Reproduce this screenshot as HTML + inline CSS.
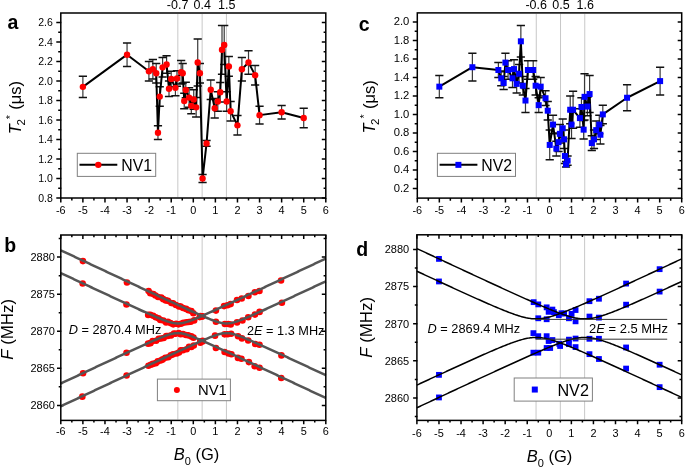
<!DOCTYPE html><html><head><meta charset="utf-8"><style>html,body{margin:0;padding:0;background:#fff;width:685px;height:467px;overflow:hidden}svg{display:block;will-change:transform}</style></head><body><svg width="685" height="467" viewBox="0 0 685 467" font-family='"Liberation Sans", sans-serif'><path d="M177.84 14.00V197.00M202.13 14.00V197.00M226.43 14.00V197.00" stroke="#c8c8c8" stroke-width="1" fill="none"/><path d="M82.88 76.13V97.58M127.05 42.97V66.38M148.91 61.50V81.00M152.89 59.55V79.05M156.20 63.45V82.95M157.97 125.85V139.50M159.73 86.85V106.35M162.60 57.60V77.10M166.58 55.65V73.20M169.01 81.00V96.60M171.22 71.25V86.85M175.41 80.03V95.63M176.96 70.67V86.27M181.15 60.53V83.93M182.70 63.45V82.95M184.25 93.19V108.79M185.79 82.27V97.87M189.10 87.82V107.33M191.31 98.06V113.66M193.74 89.77V109.28M196.17 97.58V117.08M197.72 39.08V85.88M199.93 63.45V82.95M202.57 174.60V182.40M206.55 140.47V146.32M210.75 80.03V99.53M214.72 98.55V118.05M217.81 91.72V111.23M220.24 82.46V101.96M222.01 25.43V74.18M224.22 25.42V64.43M226.65 91.72V111.23M228.85 56.62V76.13M230.62 101.47V120.98M237.47 115.61V135.11M241.88 57.60V81.00M248.51 50.78V74.18M255.13 65.40V84.90M259.55 106.35V123.90M281.63 105.38V119.03M303.72 108.30V127.80" stroke="#3a3a3a" stroke-width="1.2" fill="none"/><path d="M78.78 76.13H86.98M78.78 97.58H86.98M122.95 42.97H131.15M122.95 66.38H131.15M144.81 61.50H153.01M144.81 81.00H153.01M148.79 59.55H156.99M148.79 79.05H156.99M152.10 63.45H160.30M152.10 82.95H160.30M153.87 125.85H162.07M153.87 139.50H162.07M155.63 86.85H163.83M155.63 106.35H163.83M158.50 57.60H166.70M158.50 77.10H166.70M162.48 55.65H170.68M162.48 73.20H170.68M164.91 81.00H173.11M164.91 96.60H173.11M167.12 71.25H175.32M167.12 86.85H175.32M171.31 80.03H179.51M171.31 95.63H179.51M172.86 70.67H181.06M172.86 86.27H181.06M177.05 60.53H185.25M177.05 83.93H185.25M178.60 63.45H186.80M178.60 82.95H186.80M180.15 93.19H188.35M180.15 108.79H188.35M181.69 82.27H189.89M181.69 97.87H189.89M185.00 87.82H193.20M185.00 107.33H193.20M187.21 98.06H195.41M187.21 113.66H195.41M189.64 89.77H197.84M189.64 109.28H197.84M192.07 97.58H200.27M192.07 117.08H200.27M193.62 39.08H201.82M193.62 85.88H201.82M195.83 63.45H204.03M195.83 82.95H204.03M198.47 174.60H206.67M198.47 182.40H206.67M202.45 140.47H210.65M202.45 146.32H210.65M206.65 80.03H214.85M206.65 99.53H214.85M210.62 98.55H218.82M210.62 118.05H218.82M213.71 91.72H221.91M213.71 111.23H221.91M216.14 82.46H224.34M216.14 101.96H224.34M217.91 25.43H226.11M217.91 74.18H226.11M220.12 25.42H228.32M220.12 64.43H228.32M222.55 91.72H230.75M222.55 111.23H230.75M224.75 56.62H232.95M224.75 76.13H232.95M226.52 101.47H234.72M226.52 120.98H234.72M233.37 115.61H241.57M233.37 135.11H241.57M237.78 57.60H245.98M237.78 81.00H245.98M244.41 50.78H252.61M244.41 74.18H252.61M251.03 65.40H259.23M251.03 84.90H259.23M255.45 106.35H263.65M255.45 123.90H263.65M277.53 105.38H285.73M277.53 119.03H285.73M299.62 108.30H307.82M299.62 127.80H307.82" stroke="#111" stroke-width="1.5" fill="none"/><polyline points="82.88,86.85 127.05,54.68 148.91,71.25 152.89,69.30 156.20,73.20 157.97,132.68 159.73,96.60 162.60,67.35 166.58,64.43 169.01,88.80 171.22,79.05 175.41,87.83 176.96,78.47 181.15,72.23 182.70,73.20 184.25,100.99 185.79,90.07 189.10,97.58 191.31,105.86 193.74,99.53 196.17,107.33 197.72,62.48 199.93,73.20 202.57,178.50 206.55,143.40 210.75,89.78 214.72,108.30 217.81,101.47 220.24,92.21 222.01,49.80 224.22,44.92 226.65,101.47 228.85,66.38 230.62,111.23 237.47,125.36 241.88,69.30 248.51,62.48 255.13,75.15 259.55,115.13 281.63,112.20 303.72,118.05" stroke="#000" stroke-width="2" fill="none" stroke-linejoin="round"/><circle cx="82.88" cy="86.85" r="3.2" fill="#ff0000"/><circle cx="127.05" cy="54.68" r="3.2" fill="#ff0000"/><circle cx="148.91" cy="71.25" r="3.2" fill="#ff0000"/><circle cx="152.89" cy="69.30" r="3.2" fill="#ff0000"/><circle cx="156.20" cy="73.20" r="3.2" fill="#ff0000"/><circle cx="157.97" cy="132.68" r="3.2" fill="#ff0000"/><circle cx="159.73" cy="96.60" r="3.2" fill="#ff0000"/><circle cx="162.60" cy="67.35" r="3.2" fill="#ff0000"/><circle cx="166.58" cy="64.43" r="3.2" fill="#ff0000"/><circle cx="169.01" cy="88.80" r="3.2" fill="#ff0000"/><circle cx="171.22" cy="79.05" r="3.2" fill="#ff0000"/><circle cx="175.41" cy="87.83" r="3.2" fill="#ff0000"/><circle cx="176.96" cy="78.47" r="3.2" fill="#ff0000"/><circle cx="181.15" cy="72.23" r="3.2" fill="#ff0000"/><circle cx="182.70" cy="73.20" r="3.2" fill="#ff0000"/><circle cx="184.25" cy="100.99" r="3.2" fill="#ff0000"/><circle cx="185.79" cy="90.07" r="3.2" fill="#ff0000"/><circle cx="189.10" cy="97.58" r="3.2" fill="#ff0000"/><circle cx="191.31" cy="105.86" r="3.2" fill="#ff0000"/><circle cx="193.74" cy="99.53" r="3.2" fill="#ff0000"/><circle cx="196.17" cy="107.33" r="3.2" fill="#ff0000"/><circle cx="197.72" cy="62.48" r="3.2" fill="#ff0000"/><circle cx="199.93" cy="73.20" r="3.2" fill="#ff0000"/><circle cx="202.57" cy="178.50" r="3.2" fill="#ff0000"/><circle cx="206.55" cy="143.40" r="3.2" fill="#ff0000"/><circle cx="210.75" cy="89.78" r="3.2" fill="#ff0000"/><circle cx="214.72" cy="108.30" r="3.2" fill="#ff0000"/><circle cx="217.81" cy="101.47" r="3.2" fill="#ff0000"/><circle cx="220.24" cy="92.21" r="3.2" fill="#ff0000"/><circle cx="222.01" cy="49.80" r="3.2" fill="#ff0000"/><circle cx="224.22" cy="44.92" r="3.2" fill="#ff0000"/><circle cx="226.65" cy="101.47" r="3.2" fill="#ff0000"/><circle cx="228.85" cy="66.38" r="3.2" fill="#ff0000"/><circle cx="230.62" cy="111.23" r="3.2" fill="#ff0000"/><circle cx="237.47" cy="125.36" r="3.2" fill="#ff0000"/><circle cx="241.88" cy="69.30" r="3.2" fill="#ff0000"/><circle cx="248.51" cy="62.48" r="3.2" fill="#ff0000"/><circle cx="255.13" cy="75.15" r="3.2" fill="#ff0000"/><circle cx="259.55" cy="115.13" r="3.2" fill="#ff0000"/><circle cx="281.63" cy="112.20" r="3.2" fill="#ff0000"/><circle cx="303.72" cy="118.05" r="3.2" fill="#ff0000"/><rect x="60.80" y="13.00" width="265.00" height="185.00" fill="none" stroke="#000" stroke-width="1.5"/><path d="M56.30 198.00H61.30M321.80 198.00H325.80M56.30 178.50H61.30M321.80 178.50H325.80M56.30 159.00H61.30M321.80 159.00H325.80M56.30 139.50H61.30M321.80 139.50H325.80M56.30 120.00H61.30M321.80 120.00H325.80M56.30 100.50H61.30M321.80 100.50H325.80M56.30 81.00H61.30M321.80 81.00H325.80M56.30 61.50H61.30M321.80 61.50H325.80M56.30 42.00H61.30M321.80 42.00H325.80M56.30 22.50H61.30M321.80 22.50H325.80M58.20 188.25H61.30M323.60 188.25H325.80M58.20 168.75H61.30M323.60 168.75H325.80M58.20 149.25H61.30M323.60 149.25H325.80M58.20 129.75H61.30M323.60 129.75H325.80M58.20 110.25H61.30M323.60 110.25H325.80M58.20 90.75H61.30M323.60 90.75H325.80M58.20 71.25H61.30M323.60 71.25H325.80M58.20 51.75H61.30M323.60 51.75H325.80M58.20 32.25H61.30M323.60 32.25H325.80M60.80 202.50V198.00M82.88 202.50V198.00M104.97 202.50V198.00M127.05 202.50V198.00M149.13 202.50V198.00M171.22 202.50V198.00M193.30 202.50V198.00M215.38 202.50V198.00M237.47 202.50V198.00M259.55 202.50V198.00M281.63 202.50V198.00M303.72 202.50V198.00M325.80 202.50V198.00M71.84 200.60V198.00M93.92 200.60V198.00M116.01 200.60V198.00M138.09 200.60V198.00M160.18 200.60V198.00M182.26 200.60V198.00M204.34 200.60V198.00M226.43 200.60V198.00M248.51 200.60V198.00M270.59 200.60V198.00M292.68 200.60V198.00M314.76 200.60V198.00" stroke="#000" stroke-width="1.5" fill="none"/><text x="60.80" y="214.00" font-size="10.5" text-anchor="middle" font-weight="normal" font-style="normal" fill="#000" textLength="9.71" lengthAdjust="spacingAndGlyphs">-6</text><text x="82.88" y="214.00" font-size="10.5" text-anchor="middle" font-weight="normal" font-style="normal" fill="#000" textLength="9.71" lengthAdjust="spacingAndGlyphs">-5</text><text x="104.97" y="214.00" font-size="10.5" text-anchor="middle" font-weight="normal" font-style="normal" fill="#000" textLength="9.71" lengthAdjust="spacingAndGlyphs">-4</text><text x="127.05" y="214.00" font-size="10.5" text-anchor="middle" font-weight="normal" font-style="normal" fill="#000" textLength="9.71" lengthAdjust="spacingAndGlyphs">-3</text><text x="149.13" y="214.00" font-size="10.5" text-anchor="middle" font-weight="normal" font-style="normal" fill="#000" textLength="9.71" lengthAdjust="spacingAndGlyphs">-2</text><text x="171.22" y="214.00" font-size="10.5" text-anchor="middle" font-weight="normal" font-style="normal" fill="#000" textLength="9.71" lengthAdjust="spacingAndGlyphs">-1</text><text x="193.30" y="214.00" font-size="10.5" text-anchor="middle" font-weight="normal" font-style="normal" fill="#000" textLength="6.07" lengthAdjust="spacingAndGlyphs">0</text><text x="215.38" y="214.00" font-size="10.5" text-anchor="middle" font-weight="normal" font-style="normal" fill="#000" textLength="6.07" lengthAdjust="spacingAndGlyphs">1</text><text x="237.47" y="214.00" font-size="10.5" text-anchor="middle" font-weight="normal" font-style="normal" fill="#000" textLength="6.07" lengthAdjust="spacingAndGlyphs">2</text><text x="259.55" y="214.00" font-size="10.5" text-anchor="middle" font-weight="normal" font-style="normal" fill="#000" textLength="6.07" lengthAdjust="spacingAndGlyphs">3</text><text x="281.63" y="214.00" font-size="10.5" text-anchor="middle" font-weight="normal" font-style="normal" fill="#000" textLength="6.07" lengthAdjust="spacingAndGlyphs">4</text><text x="303.72" y="214.00" font-size="10.5" text-anchor="middle" font-weight="normal" font-style="normal" fill="#000" textLength="6.07" lengthAdjust="spacingAndGlyphs">5</text><text x="325.80" y="214.00" font-size="10.5" text-anchor="middle" font-weight="normal" font-style="normal" fill="#000" textLength="6.07" lengthAdjust="spacingAndGlyphs">6</text><text x="52.80" y="201.80" font-size="10.5" text-anchor="end" font-weight="normal" font-style="normal" fill="#000" >0.8</text><text x="52.80" y="182.30" font-size="10.5" text-anchor="end" font-weight="normal" font-style="normal" fill="#000" >1.0</text><text x="52.80" y="162.80" font-size="10.5" text-anchor="end" font-weight="normal" font-style="normal" fill="#000" >1.2</text><text x="52.80" y="143.30" font-size="10.5" text-anchor="end" font-weight="normal" font-style="normal" fill="#000" >1.4</text><text x="52.80" y="123.80" font-size="10.5" text-anchor="end" font-weight="normal" font-style="normal" fill="#000" >1.6</text><text x="52.80" y="104.30" font-size="10.5" text-anchor="end" font-weight="normal" font-style="normal" fill="#000" >1.8</text><text x="52.80" y="84.80" font-size="10.5" text-anchor="end" font-weight="normal" font-style="normal" fill="#000" >2.0</text><text x="52.80" y="65.30" font-size="10.5" text-anchor="end" font-weight="normal" font-style="normal" fill="#000" >2.2</text><text x="52.80" y="45.80" font-size="10.5" text-anchor="end" font-weight="normal" font-style="normal" fill="#000" >2.4</text><text x="52.80" y="26.30" font-size="10.5" text-anchor="end" font-weight="normal" font-style="normal" fill="#000" >2.6</text><path d="M536.28 13.90V197.10M560.52 13.90V197.10M584.75 13.90V197.10" stroke="#c8c8c8" stroke-width="1" fill="none"/><path d="M439.33 75.55V97.75M472.38 53.35V81.10M498.38 62.60V77.40M501.25 70.92V85.73M503.67 76.47V89.42M505.43 53.35V71.85M508.08 60.75V79.25M512.48 69.08V87.58M514.03 59.82V78.33M516.67 74.62V93.12M519.09 64.45V82.95M520.86 25.60V57.05M522.84 76.47V94.98M525.48 88.50V112.55M527.91 60.75V79.25M533.20 60.75V79.25M535.62 76.47V94.98M538.70 97.75V112.55M540.69 77.40V95.90M545.53 90.81V105.61M547.74 101.45V119.95M549.72 130.12V159.72M553.03 115.33V133.82M556.33 141.22V156.03M558.53 132.90V151.40M559.86 124.58V143.07M562.72 119.03V137.53M564.04 130.12V148.62M564.92 148.62V163.43M566.03 161.58V167.12M567.57 156.03V165.28M570.21 95.90V123.65M571.53 110.70V138.45M573.08 91.28V128.27M579.91 108.85V127.35M581.45 97.75V116.25M583.65 120.41V138.91M584.53 73.70V119.95M587.40 97.29V115.79M589.60 75.55V112.55M591.80 135.68V150.48M594.01 130.12V148.62M596.21 120.88V139.38M599.30 115.33V133.82M600.40 125.50V144.00M602.82 105.15V123.65M627.06 84.80V110.70M660.11 67.22V94.97" stroke="#3a3a3a" stroke-width="1.2" fill="none"/><path d="M435.23 75.55H443.43M435.23 97.75H443.43M468.28 53.35H476.48M468.28 81.10H476.48M494.28 62.60H502.48M494.28 77.40H502.48M497.15 70.92H505.35M497.15 85.73H505.35M499.57 76.47H507.77M499.57 89.42H507.77M501.33 53.35H509.53M501.33 71.85H509.53M503.98 60.75H512.18M503.98 79.25H512.18M508.38 69.08H516.58M508.38 87.58H516.58M509.93 59.82H518.13M509.93 78.33H518.13M512.57 74.62H520.77M512.57 93.12H520.77M514.99 64.45H523.19M514.99 82.95H523.19M516.76 25.60H524.96M516.76 57.05H524.96M518.74 76.47H526.94M518.74 94.98H526.94M521.38 88.50H529.58M521.38 112.55H529.58M523.81 60.75H532.01M523.81 79.25H532.01M529.10 60.75H537.30M529.10 79.25H537.30M531.52 76.47H539.72M531.52 94.98H539.72M534.60 97.75H542.80M534.60 112.55H542.80M536.59 77.40H544.79M536.59 95.90H544.79M541.43 90.81H549.63M541.43 105.61H549.63M543.64 101.45H551.84M543.64 119.95H551.84M545.62 130.12H553.82M545.62 159.72H553.82M548.93 115.33H557.13M548.93 133.82H557.13M552.23 141.22H560.43M552.23 156.03H560.43M554.43 132.90H562.63M554.43 151.40H562.63M555.76 124.58H563.96M555.76 143.07H563.96M558.62 119.03H566.82M558.62 137.53H566.82M559.94 130.12H568.14M559.94 148.62H568.14M560.82 148.62H569.02M560.82 163.43H569.02M561.93 161.58H570.13M561.93 167.12H570.13M563.47 156.03H571.67M563.47 165.28H571.67M566.11 95.90H574.31M566.11 123.65H574.31M567.43 110.70H575.63M567.43 138.45H575.63M568.98 91.28H577.18M568.98 128.27H577.18M575.81 108.85H584.01M575.81 127.35H584.01M577.35 97.75H585.55M577.35 116.25H585.55M579.55 120.41H587.75M579.55 138.91H587.75M580.43 73.70H588.63M580.43 119.95H588.63M583.30 97.29H591.50M583.30 115.79H591.50M585.50 75.55H593.70M585.50 112.55H593.70M587.70 135.68H595.90M587.70 150.48H595.90M589.91 130.12H598.11M589.91 148.62H598.11M592.11 120.88H600.31M592.11 139.38H600.31M595.20 115.33H603.40M595.20 133.82H603.40M596.30 125.50H604.50M596.30 144.00H604.50M598.72 105.15H606.92M598.72 123.65H606.92M622.96 84.80H631.16M622.96 110.70H631.16M656.01 67.22H664.21M656.01 94.97H664.21" stroke="#111" stroke-width="1.5" fill="none"/><polyline points="439.33,86.65 472.38,67.22 498.38,70.00 501.25,78.33 503.67,82.95 505.43,62.60 508.08,70.00 512.48,78.33 514.03,69.08 516.67,83.88 519.09,73.70 520.86,41.32 522.84,85.72 525.48,100.53 527.91,70.00 533.20,70.00 535.62,85.72 538.70,105.15 540.69,86.65 545.53,98.21 547.74,110.70 549.72,144.93 553.03,124.58 556.33,148.62 558.53,142.15 559.86,133.82 562.72,128.28 564.04,139.38 564.92,156.03 566.03,164.35 567.57,160.65 570.21,109.77 571.53,124.58 573.08,109.77 579.91,118.10 581.45,107.00 583.65,129.66 584.53,96.83 587.40,106.54 589.60,94.05 591.80,143.08 594.01,139.38 596.21,130.12 599.30,124.58 600.40,134.75 602.82,114.40 627.06,97.75 660.11,81.10" stroke="#000" stroke-width="2" fill="none" stroke-linejoin="round"/><rect x="436.33" y="83.65" width="6" height="6" fill="#0000ff"/><rect x="469.38" y="64.22" width="6" height="6" fill="#0000ff"/><rect x="495.38" y="67.00" width="6" height="6" fill="#0000ff"/><rect x="498.25" y="75.33" width="6" height="6" fill="#0000ff"/><rect x="500.67" y="79.95" width="6" height="6" fill="#0000ff"/><rect x="502.43" y="59.60" width="6" height="6" fill="#0000ff"/><rect x="505.08" y="67.00" width="6" height="6" fill="#0000ff"/><rect x="509.48" y="75.33" width="6" height="6" fill="#0000ff"/><rect x="511.03" y="66.08" width="6" height="6" fill="#0000ff"/><rect x="513.67" y="80.88" width="6" height="6" fill="#0000ff"/><rect x="516.09" y="70.70" width="6" height="6" fill="#0000ff"/><rect x="517.86" y="38.32" width="6" height="6" fill="#0000ff"/><rect x="519.84" y="82.72" width="6" height="6" fill="#0000ff"/><rect x="522.48" y="97.53" width="6" height="6" fill="#0000ff"/><rect x="524.91" y="67.00" width="6" height="6" fill="#0000ff"/><rect x="530.20" y="67.00" width="6" height="6" fill="#0000ff"/><rect x="532.62" y="82.72" width="6" height="6" fill="#0000ff"/><rect x="535.70" y="102.15" width="6" height="6" fill="#0000ff"/><rect x="537.69" y="83.65" width="6" height="6" fill="#0000ff"/><rect x="542.53" y="95.21" width="6" height="6" fill="#0000ff"/><rect x="544.74" y="107.70" width="6" height="6" fill="#0000ff"/><rect x="546.72" y="141.93" width="6" height="6" fill="#0000ff"/><rect x="550.03" y="121.58" width="6" height="6" fill="#0000ff"/><rect x="553.33" y="145.62" width="6" height="6" fill="#0000ff"/><rect x="555.53" y="139.15" width="6" height="6" fill="#0000ff"/><rect x="556.86" y="130.82" width="6" height="6" fill="#0000ff"/><rect x="559.72" y="125.28" width="6" height="6" fill="#0000ff"/><rect x="561.04" y="136.38" width="6" height="6" fill="#0000ff"/><rect x="561.92" y="153.03" width="6" height="6" fill="#0000ff"/><rect x="563.03" y="161.35" width="6" height="6" fill="#0000ff"/><rect x="564.57" y="157.65" width="6" height="6" fill="#0000ff"/><rect x="567.21" y="106.77" width="6" height="6" fill="#0000ff"/><rect x="568.53" y="121.58" width="6" height="6" fill="#0000ff"/><rect x="570.08" y="106.77" width="6" height="6" fill="#0000ff"/><rect x="576.91" y="115.10" width="6" height="6" fill="#0000ff"/><rect x="578.45" y="104.00" width="6" height="6" fill="#0000ff"/><rect x="580.65" y="126.66" width="6" height="6" fill="#0000ff"/><rect x="581.53" y="93.83" width="6" height="6" fill="#0000ff"/><rect x="584.40" y="103.54" width="6" height="6" fill="#0000ff"/><rect x="586.60" y="91.05" width="6" height="6" fill="#0000ff"/><rect x="588.80" y="140.08" width="6" height="6" fill="#0000ff"/><rect x="591.01" y="136.38" width="6" height="6" fill="#0000ff"/><rect x="593.21" y="127.12" width="6" height="6" fill="#0000ff"/><rect x="596.30" y="121.58" width="6" height="6" fill="#0000ff"/><rect x="597.40" y="131.75" width="6" height="6" fill="#0000ff"/><rect x="599.82" y="111.40" width="6" height="6" fill="#0000ff"/><rect x="624.06" y="94.75" width="6" height="6" fill="#0000ff"/><rect x="657.11" y="78.10" width="6" height="6" fill="#0000ff"/><rect x="417.30" y="12.90" width="264.40" height="185.20" fill="none" stroke="#000" stroke-width="1.5"/><path d="M412.80 188.40H417.80M677.70 188.40H681.70M412.80 169.90H417.80M677.70 169.90H681.70M412.80 151.40H417.80M677.70 151.40H681.70M412.80 132.90H417.80M677.70 132.90H681.70M412.80 114.40H417.80M677.70 114.40H681.70M412.80 95.90H417.80M677.70 95.90H681.70M412.80 77.40H417.80M677.70 77.40H681.70M412.80 58.90H417.80M677.70 58.90H681.70M412.80 40.40H417.80M677.70 40.40H681.70M412.80 21.90H417.80M677.70 21.90H681.70M414.70 179.15H417.80M679.50 179.15H681.70M414.70 160.65H417.80M679.50 160.65H681.70M414.70 142.15H417.80M679.50 142.15H681.70M414.70 123.65H417.80M679.50 123.65H681.70M414.70 105.15H417.80M679.50 105.15H681.70M414.70 86.65H417.80M679.50 86.65H681.70M414.70 68.15H417.80M679.50 68.15H681.70M414.70 49.65H417.80M679.50 49.65H681.70M414.70 31.15H417.80M679.50 31.15H681.70M417.30 202.60V198.10M439.33 202.60V198.10M461.37 202.60V198.10M483.40 202.60V198.10M505.43 202.60V198.10M527.47 202.60V198.10M549.50 202.60V198.10M571.53 202.60V198.10M593.57 202.60V198.10M615.60 202.60V198.10M637.63 202.60V198.10M659.67 202.60V198.10M681.70 202.60V198.10M428.32 200.70V198.10M450.35 200.70V198.10M472.38 200.70V198.10M494.42 200.70V198.10M516.45 200.70V198.10M538.48 200.70V198.10M560.52 200.70V198.10M582.55 200.70V198.10M604.58 200.70V198.10M626.62 200.70V198.10M648.65 200.70V198.10M670.68 200.70V198.10" stroke="#000" stroke-width="1.5" fill="none"/><text x="417.30" y="214.00" font-size="10.5" text-anchor="middle" font-weight="normal" font-style="normal" fill="#000" textLength="9.71" lengthAdjust="spacingAndGlyphs">-6</text><text x="439.33" y="214.00" font-size="10.5" text-anchor="middle" font-weight="normal" font-style="normal" fill="#000" textLength="9.71" lengthAdjust="spacingAndGlyphs">-5</text><text x="461.37" y="214.00" font-size="10.5" text-anchor="middle" font-weight="normal" font-style="normal" fill="#000" textLength="9.71" lengthAdjust="spacingAndGlyphs">-4</text><text x="483.40" y="214.00" font-size="10.5" text-anchor="middle" font-weight="normal" font-style="normal" fill="#000" textLength="9.71" lengthAdjust="spacingAndGlyphs">-3</text><text x="505.43" y="214.00" font-size="10.5" text-anchor="middle" font-weight="normal" font-style="normal" fill="#000" textLength="9.71" lengthAdjust="spacingAndGlyphs">-2</text><text x="527.47" y="214.00" font-size="10.5" text-anchor="middle" font-weight="normal" font-style="normal" fill="#000" textLength="9.71" lengthAdjust="spacingAndGlyphs">-1</text><text x="549.50" y="214.00" font-size="10.5" text-anchor="middle" font-weight="normal" font-style="normal" fill="#000" textLength="6.07" lengthAdjust="spacingAndGlyphs">0</text><text x="571.53" y="214.00" font-size="10.5" text-anchor="middle" font-weight="normal" font-style="normal" fill="#000" textLength="6.07" lengthAdjust="spacingAndGlyphs">1</text><text x="593.57" y="214.00" font-size="10.5" text-anchor="middle" font-weight="normal" font-style="normal" fill="#000" textLength="6.07" lengthAdjust="spacingAndGlyphs">2</text><text x="615.60" y="214.00" font-size="10.5" text-anchor="middle" font-weight="normal" font-style="normal" fill="#000" textLength="6.07" lengthAdjust="spacingAndGlyphs">3</text><text x="637.63" y="214.00" font-size="10.5" text-anchor="middle" font-weight="normal" font-style="normal" fill="#000" textLength="6.07" lengthAdjust="spacingAndGlyphs">4</text><text x="659.67" y="214.00" font-size="10.5" text-anchor="middle" font-weight="normal" font-style="normal" fill="#000" textLength="6.07" lengthAdjust="spacingAndGlyphs">5</text><text x="681.70" y="214.00" font-size="10.5" text-anchor="middle" font-weight="normal" font-style="normal" fill="#000" textLength="6.07" lengthAdjust="spacingAndGlyphs">6</text><text x="409.30" y="191.90" font-size="10.5" text-anchor="end" font-weight="normal" font-style="normal" fill="#000" textLength="15.62" lengthAdjust="spacingAndGlyphs">0.2</text><text x="409.30" y="173.40" font-size="10.5" text-anchor="end" font-weight="normal" font-style="normal" fill="#000" textLength="15.62" lengthAdjust="spacingAndGlyphs">0.4</text><text x="409.30" y="154.90" font-size="10.5" text-anchor="end" font-weight="normal" font-style="normal" fill="#000" textLength="15.62" lengthAdjust="spacingAndGlyphs">0.6</text><text x="409.30" y="136.40" font-size="10.5" text-anchor="end" font-weight="normal" font-style="normal" fill="#000" textLength="15.62" lengthAdjust="spacingAndGlyphs">0.8</text><text x="409.30" y="117.90" font-size="10.5" text-anchor="end" font-weight="normal" font-style="normal" fill="#000" textLength="15.62" lengthAdjust="spacingAndGlyphs">1.0</text><text x="409.30" y="99.40" font-size="10.5" text-anchor="end" font-weight="normal" font-style="normal" fill="#000" textLength="15.62" lengthAdjust="spacingAndGlyphs">1.2</text><text x="409.30" y="80.90" font-size="10.5" text-anchor="end" font-weight="normal" font-style="normal" fill="#000" textLength="15.62" lengthAdjust="spacingAndGlyphs">1.4</text><text x="409.30" y="62.40" font-size="10.5" text-anchor="end" font-weight="normal" font-style="normal" fill="#000" textLength="15.62" lengthAdjust="spacingAndGlyphs">1.6</text><text x="409.30" y="43.90" font-size="10.5" text-anchor="end" font-weight="normal" font-style="normal" fill="#000" textLength="15.62" lengthAdjust="spacingAndGlyphs">1.8</text><text x="409.30" y="25.40" font-size="10.5" text-anchor="end" font-weight="normal" font-style="normal" fill="#000" textLength="15.62" lengthAdjust="spacingAndGlyphs">2.0</text><path d="M177.84 236.00V419.40M202.13 236.00V419.40M226.43 236.00V419.40" stroke="#c8c8c8" stroke-width="1" fill="none"/><circle cx="82.67" cy="283.53" r="3.3" fill="#ff0000"/><circle cx="83.06" cy="373.20" r="3.3" fill="#ff0000"/><circle cx="82.93" cy="261.12" r="3.3" fill="#ff0000"/><circle cx="82.35" cy="396.64" r="3.3" fill="#ff0000"/><circle cx="126.49" cy="304.52" r="3.3" fill="#ff0000"/><circle cx="126.53" cy="352.69" r="3.3" fill="#ff0000"/><circle cx="126.96" cy="282.54" r="3.3" fill="#ff0000"/><circle cx="126.60" cy="375.50" r="3.3" fill="#ff0000"/><circle cx="148.18" cy="314.88" r="3.3" fill="#ff0000"/><circle cx="148.12" cy="343.64" r="3.3" fill="#ff0000"/><circle cx="148.60" cy="291.09" r="3.3" fill="#ff0000"/><circle cx="148.46" cy="365.81" r="3.3" fill="#ff0000"/><circle cx="150.25" cy="314.72" r="3.3" fill="#ff0000"/><circle cx="150.45" cy="343.14" r="3.3" fill="#ff0000"/><circle cx="150.30" cy="293.18" r="3.3" fill="#ff0000"/><circle cx="150.85" cy="364.71" r="3.3" fill="#ff0000"/><circle cx="153.17" cy="315.70" r="3.3" fill="#ff0000"/><circle cx="152.58" cy="341.10" r="3.3" fill="#ff0000"/><circle cx="153.32" cy="294.07" r="3.3" fill="#ff0000"/><circle cx="152.89" cy="363.92" r="3.3" fill="#ff0000"/><circle cx="155.70" cy="317.22" r="3.3" fill="#ff0000"/><circle cx="156.11" cy="340.75" r="3.3" fill="#ff0000"/><circle cx="155.45" cy="295.54" r="3.3" fill="#ff0000"/><circle cx="155.79" cy="363.15" r="3.3" fill="#ff0000"/><circle cx="158.46" cy="318.22" r="3.3" fill="#ff0000"/><circle cx="158.76" cy="338.79" r="3.3" fill="#ff0000"/><circle cx="158.09" cy="296.96" r="3.3" fill="#ff0000"/><circle cx="157.77" cy="361.40" r="3.3" fill="#ff0000"/><circle cx="160.28" cy="319.92" r="3.3" fill="#ff0000"/><circle cx="161.15" cy="338.43" r="3.3" fill="#ff0000"/><circle cx="161.29" cy="297.48" r="3.3" fill="#ff0000"/><circle cx="161.07" cy="360.34" r="3.3" fill="#ff0000"/><circle cx="163.36" cy="320.54" r="3.3" fill="#ff0000"/><circle cx="163.67" cy="338.07" r="3.3" fill="#ff0000"/><circle cx="163.24" cy="299.17" r="3.3" fill="#ff0000"/><circle cx="162.74" cy="359.38" r="3.3" fill="#ff0000"/><circle cx="166.09" cy="322.38" r="3.3" fill="#ff0000"/><circle cx="166.30" cy="336.03" r="3.3" fill="#ff0000"/><circle cx="165.78" cy="300.40" r="3.3" fill="#ff0000"/><circle cx="165.34" cy="357.77" r="3.3" fill="#ff0000"/><circle cx="167.95" cy="321.80" r="3.3" fill="#ff0000"/><circle cx="167.82" cy="335.98" r="3.3" fill="#ff0000"/><circle cx="167.90" cy="300.86" r="3.3" fill="#ff0000"/><circle cx="168.21" cy="357.30" r="3.3" fill="#ff0000"/><circle cx="170.49" cy="323.11" r="3.3" fill="#ff0000"/><circle cx="171.06" cy="335.39" r="3.3" fill="#ff0000"/><circle cx="171.38" cy="303.07" r="3.3" fill="#ff0000"/><circle cx="170.73" cy="355.35" r="3.3" fill="#ff0000"/><circle cx="173.26" cy="324.35" r="3.3" fill="#ff0000"/><circle cx="173.97" cy="333.67" r="3.3" fill="#ff0000"/><circle cx="173.04" cy="303.18" r="3.3" fill="#ff0000"/><circle cx="173.11" cy="354.34" r="3.3" fill="#ff0000"/><circle cx="176.18" cy="323.71" r="3.3" fill="#ff0000"/><circle cx="175.48" cy="333.75" r="3.3" fill="#ff0000"/><circle cx="175.92" cy="304.94" r="3.3" fill="#ff0000"/><circle cx="176.62" cy="353.44" r="3.3" fill="#ff0000"/><circle cx="178.52" cy="324.34" r="3.3" fill="#ff0000"/><circle cx="178.72" cy="333.10" r="3.3" fill="#ff0000"/><circle cx="178.98" cy="306.40" r="3.3" fill="#ff0000"/><circle cx="178.95" cy="352.50" r="3.3" fill="#ff0000"/><circle cx="181.03" cy="323.76" r="3.3" fill="#ff0000"/><circle cx="180.68" cy="334.26" r="3.3" fill="#ff0000"/><circle cx="180.63" cy="306.47" r="3.3" fill="#ff0000"/><circle cx="180.80" cy="350.26" r="3.3" fill="#ff0000"/><circle cx="183.39" cy="322.74" r="3.3" fill="#ff0000"/><circle cx="182.98" cy="333.95" r="3.3" fill="#ff0000"/><circle cx="183.11" cy="308.06" r="3.3" fill="#ff0000"/><circle cx="183.01" cy="350.29" r="3.3" fill="#ff0000"/><circle cx="186.37" cy="322.19" r="3.3" fill="#ff0000"/><circle cx="185.94" cy="334.97" r="3.3" fill="#ff0000"/><circle cx="186.07" cy="308.88" r="3.3" fill="#ff0000"/><circle cx="186.65" cy="349.27" r="3.3" fill="#ff0000"/><circle cx="188.62" cy="321.95" r="3.3" fill="#ff0000"/><circle cx="188.17" cy="335.35" r="3.3" fill="#ff0000"/><circle cx="188.47" cy="310.21" r="3.3" fill="#ff0000"/><circle cx="189.06" cy="346.84" r="3.3" fill="#ff0000"/><circle cx="190.74" cy="321.75" r="3.3" fill="#ff0000"/><circle cx="191.35" cy="336.38" r="3.3" fill="#ff0000"/><circle cx="191.36" cy="311.03" r="3.3" fill="#ff0000"/><circle cx="191.35" cy="346.94" r="3.3" fill="#ff0000"/><circle cx="194.18" cy="320.40" r="3.3" fill="#ff0000"/><circle cx="193.46" cy="337.66" r="3.3" fill="#ff0000"/><circle cx="193.34" cy="313.32" r="3.3" fill="#ff0000"/><circle cx="193.78" cy="345.53" r="3.3" fill="#ff0000"/><circle cx="199.72" cy="317.10" r="3.3" fill="#ff0000"/><circle cx="200.30" cy="341.21" r="3.3" fill="#ff0000"/><circle cx="200.35" cy="316.12" r="3.3" fill="#ff0000"/><circle cx="200.31" cy="342.72" r="3.3" fill="#ff0000"/><circle cx="202.47" cy="316.33" r="3.3" fill="#ff0000"/><circle cx="202.62" cy="340.91" r="3.3" fill="#ff0000"/><circle cx="202.23" cy="316.52" r="3.3" fill="#ff0000"/><circle cx="202.51" cy="341.40" r="3.3" fill="#ff0000"/><circle cx="215.93" cy="310.61" r="3.3" fill="#ff0000"/><circle cx="215.91" cy="348.06" r="3.3" fill="#ff0000"/><circle cx="215.93" cy="321.68" r="3.3" fill="#ff0000"/><circle cx="215.05" cy="335.63" r="3.3" fill="#ff0000"/><circle cx="224.07" cy="306.08" r="3.3" fill="#ff0000"/><circle cx="224.59" cy="352.05" r="3.3" fill="#ff0000"/><circle cx="224.85" cy="324.04" r="3.3" fill="#ff0000"/><circle cx="224.62" cy="334.37" r="3.3" fill="#ff0000"/><circle cx="227.47" cy="305.19" r="3.3" fill="#ff0000"/><circle cx="228.46" cy="353.49" r="3.3" fill="#ff0000"/><circle cx="228.27" cy="324.07" r="3.3" fill="#ff0000"/><circle cx="227.59" cy="334.32" r="3.3" fill="#ff0000"/><circle cx="230.64" cy="304.09" r="3.3" fill="#ff0000"/><circle cx="231.41" cy="354.19" r="3.3" fill="#ff0000"/><circle cx="230.72" cy="324.45" r="3.3" fill="#ff0000"/><circle cx="231.11" cy="333.70" r="3.3" fill="#ff0000"/><circle cx="237.02" cy="299.99" r="3.3" fill="#ff0000"/><circle cx="237.95" cy="357.91" r="3.3" fill="#ff0000"/><circle cx="237.04" cy="322.42" r="3.3" fill="#ff0000"/><circle cx="238.04" cy="336.32" r="3.3" fill="#ff0000"/><circle cx="241.70" cy="298.57" r="3.3" fill="#ff0000"/><circle cx="241.44" cy="358.70" r="3.3" fill="#ff0000"/><circle cx="242.45" cy="320.50" r="3.3" fill="#ff0000"/><circle cx="241.92" cy="338.40" r="3.3" fill="#ff0000"/><circle cx="248.43" cy="296.01" r="3.3" fill="#ff0000"/><circle cx="248.90" cy="362.09" r="3.3" fill="#ff0000"/><circle cx="248.21" cy="317.21" r="3.3" fill="#ff0000"/><circle cx="248.20" cy="340.57" r="3.3" fill="#ff0000"/><circle cx="254.84" cy="292.20" r="3.3" fill="#ff0000"/><circle cx="254.69" cy="366.29" r="3.3" fill="#ff0000"/><circle cx="254.96" cy="314.59" r="3.3" fill="#ff0000"/><circle cx="255.23" cy="343.96" r="3.3" fill="#ff0000"/><circle cx="259.45" cy="290.94" r="3.3" fill="#ff0000"/><circle cx="259.55" cy="367.75" r="3.3" fill="#ff0000"/><circle cx="259.58" cy="311.91" r="3.3" fill="#ff0000"/><circle cx="259.48" cy="344.78" r="3.3" fill="#ff0000"/><circle cx="281.04" cy="280.43" r="3.3" fill="#ff0000"/><circle cx="281.24" cy="377.97" r="3.3" fill="#ff0000"/><circle cx="281.90" cy="302.68" r="3.3" fill="#ff0000"/><circle cx="281.42" cy="355.41" r="3.3" fill="#ff0000"/><polyline points="60.80,273.05 61.90,273.57 63.01,274.09 64.11,274.61 65.22,275.12 66.32,275.64 67.42,276.16 68.53,276.67 69.63,277.19 70.74,277.71 71.84,278.22 72.95,278.74 74.05,279.26 75.15,279.77 76.26,280.29 77.36,280.81 78.47,281.32 79.57,281.84 80.68,282.35 81.78,282.87 82.88,283.39 83.99,283.90 85.09,284.42 86.20,284.93 87.30,285.45 88.40,285.97 89.51,286.48 90.61,287.00 91.72,287.51 92.82,288.03 93.92,288.54 95.03,289.06 96.13,289.57 97.24,290.09 98.34,290.60 99.45,291.12 100.55,291.63 101.65,292.15 102.76,292.66 103.86,293.18 104.97,293.69 106.07,294.20 107.17,294.72 108.28,295.23 109.38,295.74 110.49,296.26 111.59,296.77 112.70,297.28 113.80,297.80 114.90,298.31 116.01,298.82 117.11,299.33 118.22,299.84 119.32,300.36 120.42,300.87 121.53,301.38 122.63,301.89 123.74,302.40 124.84,302.91 125.95,303.42 127.05,303.93 128.15,304.43 129.26,304.94 130.36,305.45 131.47,305.96 132.57,306.46 133.68,306.97 134.78,307.48 135.88,307.98 136.99,308.48 138.09,308.99 139.20,309.49 140.30,309.99 141.40,310.49 142.51,310.99 143.61,311.49 144.72,311.98 145.82,312.48 146.93,312.97 148.03,313.46 149.13,313.95 150.24,314.44 151.34,314.93 152.45,315.41 153.55,315.89 154.65,316.37 155.76,316.84 156.86,317.31 157.97,317.77 159.07,318.23 160.18,318.68 161.28,319.13 162.38,319.56 163.49,319.99 164.59,320.41 165.70,320.81 166.80,321.20 167.90,321.57 169.01,321.92 170.11,322.25 171.22,322.55 172.32,322.81 173.43,323.04 174.53,323.22 175.63,323.35 176.74,323.44 177.84,323.46 178.95,323.44 180.05,323.35 181.15,323.22 182.26,323.04 183.36,322.81 184.47,322.55 185.57,322.25 186.68,321.92 187.78,321.57 188.88,321.20 189.99,320.81 191.09,320.41 192.20,319.99 193.30,319.56 194.40,319.13 195.51,318.68 196.61,318.23 197.72,317.77 198.82,317.31 199.93,316.84 201.03,316.37 202.13,315.89 203.24,315.41 204.34,314.93 205.45,314.44 206.55,313.95 207.65,313.46 208.76,312.97 209.86,312.48 210.97,311.98 212.07,311.49 213.18,310.99 214.28,310.49 215.38,309.99 216.49,309.49 217.59,308.99 218.70,308.48 219.80,307.98 220.90,307.48 222.01,306.97 223.11,306.46 224.22,305.96 225.32,305.45 226.43,304.94 227.53,304.43 228.63,303.93 229.74,303.42 230.84,302.91 231.95,302.40 233.05,301.89 234.15,301.38 235.26,300.87 236.36,300.36 237.47,299.84 238.57,299.33 239.68,298.82 240.78,298.31 241.88,297.80 242.99,297.28 244.09,296.77 245.20,296.26 246.30,295.74 247.40,295.23 248.51,294.72 249.61,294.20 250.72,293.69 251.82,293.18 252.93,292.66 254.03,292.15 255.13,291.63 256.24,291.12 257.34,290.60 258.45,290.09 259.55,289.57 260.65,289.06 261.76,288.54 262.86,288.03 263.97,287.51 265.07,287.00 266.18,286.48 267.28,285.97 268.38,285.45 269.49,284.93 270.59,284.42 271.70,283.90 272.80,283.39 273.90,282.87 275.01,282.35 276.11,281.84 277.22,281.32 278.32,280.81 279.43,280.29 280.53,279.77 281.63,279.26 282.74,278.74 283.84,278.22 284.95,277.71 286.05,277.19 287.15,276.67 288.26,276.16 289.36,275.64 290.47,275.12 291.57,274.61 292.68,274.09 293.78,273.57 294.88,273.05 295.99,272.54 297.09,272.02 298.20,271.50 299.30,270.99 300.40,270.47 301.51,269.95 302.61,269.43 303.72,268.92 304.82,268.40 305.93,267.88 307.03,267.36 308.13,266.85 309.24,266.33 310.34,265.81 311.45,265.29 312.55,264.78 313.65,264.26 314.76,263.74 315.86,263.22 316.97,262.71 318.07,262.19 319.18,261.67 320.28,261.15 321.38,260.64 322.49,260.12 323.59,259.60 324.70,259.08 325.80,258.56" stroke="#555" stroke-width="2.5" fill="none"/><polyline points="60.80,383.51 61.90,383.00 63.01,382.48 64.11,381.96 65.22,381.45 66.32,380.93 67.42,380.41 68.53,379.90 69.63,379.38 70.74,378.86 71.84,378.35 72.95,377.83 74.05,377.31 75.15,376.80 76.26,376.28 77.36,375.76 78.47,375.25 79.57,374.73 80.68,374.21 81.78,373.70 82.88,373.18 83.99,372.67 85.09,372.15 86.20,371.63 87.30,371.12 88.40,370.60 89.51,370.09 90.61,369.57 91.72,369.06 92.82,368.54 93.92,368.03 95.03,367.51 96.13,366.99 97.24,366.48 98.34,365.97 99.45,365.45 100.55,364.94 101.65,364.42 102.76,363.91 103.86,363.39 104.97,362.88 106.07,362.36 107.17,361.85 108.28,361.34 109.38,360.82 110.49,360.31 111.59,359.80 112.70,359.28 113.80,358.77 114.90,358.26 116.01,357.75 117.11,357.24 118.22,356.72 119.32,356.21 120.42,355.70 121.53,355.19 122.63,354.68 123.74,354.17 124.84,353.66 125.95,353.15 127.05,352.64 128.15,352.13 129.26,351.63 130.36,351.12 131.47,350.61 132.57,350.10 133.68,349.60 134.78,349.09 135.88,348.59 136.99,348.08 138.09,347.58 139.20,347.08 140.30,346.58 141.40,346.08 142.51,345.58 143.61,345.08 144.72,344.58 145.82,344.09 146.93,343.60 148.03,343.10 149.13,342.61 150.24,342.13 151.34,341.64 152.45,341.16 153.55,340.68 154.65,340.20 155.76,339.73 156.86,339.26 157.97,338.80 159.07,338.34 160.18,337.89 161.28,337.44 162.38,337.00 163.49,336.58 164.59,336.16 165.70,335.76 166.80,335.37 167.90,335.00 169.01,334.65 170.11,334.32 171.22,334.02 172.32,333.76 173.43,333.53 174.53,333.35 175.63,333.21 176.74,333.13 177.84,333.10 178.95,333.13 180.05,333.21 181.15,333.35 182.26,333.53 183.36,333.76 184.47,334.02 185.57,334.32 186.68,334.65 187.78,335.00 188.88,335.37 189.99,335.76 191.09,336.16 192.20,336.58 193.30,337.00 194.40,337.44 195.51,337.89 196.61,338.34 197.72,338.80 198.82,339.26 199.93,339.73 201.03,340.20 202.13,340.68 203.24,341.16 204.34,341.64 205.45,342.13 206.55,342.61 207.65,343.10 208.76,343.60 209.86,344.09 210.97,344.58 212.07,345.08 213.18,345.58 214.28,346.08 215.38,346.58 216.49,347.08 217.59,347.58 218.70,348.08 219.80,348.59 220.90,349.09 222.01,349.60 223.11,350.10 224.22,350.61 225.32,351.12 226.43,351.63 227.53,352.13 228.63,352.64 229.74,353.15 230.84,353.66 231.95,354.17 233.05,354.68 234.15,355.19 235.26,355.70 236.36,356.21 237.47,356.72 238.57,357.24 239.68,357.75 240.78,358.26 241.88,358.77 242.99,359.28 244.09,359.80 245.20,360.31 246.30,360.82 247.40,361.34 248.51,361.85 249.61,362.36 250.72,362.88 251.82,363.39 252.93,363.91 254.03,364.42 255.13,364.94 256.24,365.45 257.34,365.97 258.45,366.48 259.55,366.99 260.65,367.51 261.76,368.03 262.86,368.54 263.97,369.06 265.07,369.57 266.18,370.09 267.28,370.60 268.38,371.12 269.49,371.63 270.59,372.15 271.70,372.67 272.80,373.18 273.90,373.70 275.01,374.21 276.11,374.73 277.22,375.25 278.32,375.76 279.43,376.28 280.53,376.80 281.63,377.31 282.74,377.83 283.84,378.35 284.95,378.86 286.05,379.38 287.15,379.90 288.26,380.41 289.36,380.93 290.47,381.45 291.57,381.96 292.68,382.48 293.78,383.00 294.88,383.51 295.99,384.03 297.09,384.55 298.20,385.07 299.30,385.58 300.40,386.10 301.51,386.62 302.61,387.13 303.72,387.65 304.82,388.17 305.93,388.69 307.03,389.20 308.13,389.72 309.24,390.24 310.34,390.76 311.45,391.27 312.55,391.79 313.65,392.31 314.76,392.83 315.86,393.34 316.97,393.86 318.07,394.38 319.18,394.90 320.28,395.41 321.38,395.93 322.49,396.45 323.59,396.97 324.70,397.49 325.80,398.00" stroke="#555" stroke-width="2.5" fill="none"/><polyline points="60.80,250.28 61.90,250.80 63.01,251.31 64.11,251.83 65.22,252.35 66.32,252.87 67.42,253.39 68.53,253.90 69.63,254.42 70.74,254.94 71.84,255.46 72.95,255.98 74.05,256.49 75.15,257.01 76.26,257.53 77.36,258.05 78.47,258.56 79.57,259.08 80.68,259.60 81.78,260.12 82.88,260.64 83.99,261.15 85.09,261.67 86.20,262.19 87.30,262.71 88.40,263.22 89.51,263.74 90.61,264.26 91.72,264.78 92.82,265.29 93.92,265.81 95.03,266.33 96.13,266.85 97.24,267.36 98.34,267.88 99.45,268.40 100.55,268.92 101.65,269.43 102.76,269.95 103.86,270.47 104.97,270.99 106.07,271.50 107.17,272.02 108.28,272.54 109.38,273.05 110.49,273.57 111.59,274.09 112.70,274.61 113.80,275.12 114.90,275.64 116.01,276.16 117.11,276.67 118.22,277.19 119.32,277.71 120.42,278.22 121.53,278.74 122.63,279.26 123.74,279.77 124.84,280.29 125.95,280.81 127.05,281.32 128.15,281.84 129.26,282.35 130.36,282.87 131.47,283.39 132.57,283.90 133.68,284.42 134.78,284.93 135.88,285.45 136.99,285.97 138.09,286.48 139.20,287.00 140.30,287.51 141.40,288.03 142.51,288.54 143.61,289.06 144.72,289.57 145.82,290.09 146.93,290.60 148.03,291.12 149.13,291.63 150.24,292.15 151.34,292.66 152.45,293.18 153.55,293.69 154.65,294.20 155.76,294.72 156.86,295.23 157.97,295.74 159.07,296.26 160.18,296.77 161.28,297.28 162.38,297.80 163.49,298.31 164.59,298.82 165.70,299.33 166.80,299.84 167.90,300.36 169.01,300.87 170.11,301.38 171.22,301.89 172.32,302.40 173.43,302.91 174.53,303.42 175.63,303.93 176.74,304.43 177.84,304.94 178.95,305.45 180.05,305.96 181.15,306.46 182.26,306.97 183.36,307.48 184.47,307.98 185.57,308.48 186.68,308.99 187.78,309.49 188.88,309.99 189.99,310.49 191.09,310.99 192.20,311.49 193.30,311.98 194.40,312.48 195.51,312.97 196.61,313.46 197.72,313.95 198.82,314.44 199.93,314.93 201.03,315.41 202.13,315.89 203.24,316.37 204.34,316.84 205.45,317.31 206.55,317.77 207.65,318.23 208.76,318.68 209.86,319.13 210.97,319.56 212.07,319.99 213.18,320.41 214.28,320.81 215.38,321.20 216.49,321.57 217.59,321.92 218.70,322.25 219.80,322.55 220.90,322.81 222.01,323.04 223.11,323.22 224.22,323.35 225.32,323.44 226.43,323.46 227.53,323.44 228.63,323.35 229.74,323.22 230.84,323.04 231.95,322.81 233.05,322.55 234.15,322.25 235.26,321.92 236.36,321.57 237.47,321.20 238.57,320.81 239.68,320.41 240.78,319.99 241.88,319.56 242.99,319.13 244.09,318.68 245.20,318.23 246.30,317.77 247.40,317.31 248.51,316.84 249.61,316.37 250.72,315.89 251.82,315.41 252.93,314.93 254.03,314.44 255.13,313.95 256.24,313.46 257.34,312.97 258.45,312.48 259.55,311.98 260.65,311.49 261.76,310.99 262.86,310.49 263.97,309.99 265.07,309.49 266.18,308.99 267.28,308.48 268.38,307.98 269.49,307.48 270.59,306.97 271.70,306.46 272.80,305.96 273.90,305.45 275.01,304.94 276.11,304.43 277.22,303.93 278.32,303.42 279.43,302.91 280.53,302.40 281.63,301.89 282.74,301.38 283.84,300.87 284.95,300.36 286.05,299.84 287.15,299.33 288.26,298.82 289.36,298.31 290.47,297.80 291.57,297.28 292.68,296.77 293.78,296.26 294.88,295.74 295.99,295.23 297.09,294.72 298.20,294.20 299.30,293.69 300.40,293.18 301.51,292.66 302.61,292.15 303.72,291.63 304.82,291.12 305.93,290.60 307.03,290.09 308.13,289.57 309.24,289.06 310.34,288.54 311.45,288.03 312.55,287.51 313.65,287.00 314.76,286.48 315.86,285.97 316.97,285.45 318.07,284.93 319.18,284.42 320.28,283.90 321.38,283.39 322.49,282.87 323.59,282.35 324.70,281.84 325.80,281.32" stroke="#555" stroke-width="2.5" fill="none"/><polyline points="60.80,406.29 61.90,405.77 63.01,405.25 64.11,404.74 65.22,404.22 66.32,403.70 67.42,403.18 68.53,402.66 69.63,402.15 70.74,401.63 71.84,401.11 72.95,400.59 74.05,400.07 75.15,399.56 76.26,399.04 77.36,398.52 78.47,398.00 79.57,397.49 80.68,396.97 81.78,396.45 82.88,395.93 83.99,395.41 85.09,394.90 86.20,394.38 87.30,393.86 88.40,393.34 89.51,392.83 90.61,392.31 91.72,391.79 92.82,391.27 93.92,390.76 95.03,390.24 96.13,389.72 97.24,389.20 98.34,388.69 99.45,388.17 100.55,387.65 101.65,387.13 102.76,386.62 103.86,386.10 104.97,385.58 106.07,385.07 107.17,384.55 108.28,384.03 109.38,383.51 110.49,383.00 111.59,382.48 112.70,381.96 113.80,381.45 114.90,380.93 116.01,380.41 117.11,379.90 118.22,379.38 119.32,378.86 120.42,378.35 121.53,377.83 122.63,377.31 123.74,376.80 124.84,376.28 125.95,375.76 127.05,375.25 128.15,374.73 129.26,374.21 130.36,373.70 131.47,373.18 132.57,372.67 133.68,372.15 134.78,371.63 135.88,371.12 136.99,370.60 138.09,370.09 139.20,369.57 140.30,369.06 141.40,368.54 142.51,368.03 143.61,367.51 144.72,366.99 145.82,366.48 146.93,365.97 148.03,365.45 149.13,364.94 150.24,364.42 151.34,363.91 152.45,363.39 153.55,362.88 154.65,362.36 155.76,361.85 156.86,361.34 157.97,360.82 159.07,360.31 160.18,359.80 161.28,359.28 162.38,358.77 163.49,358.26 164.59,357.75 165.70,357.24 166.80,356.72 167.90,356.21 169.01,355.70 170.11,355.19 171.22,354.68 172.32,354.17 173.43,353.66 174.53,353.15 175.63,352.64 176.74,352.13 177.84,351.63 178.95,351.12 180.05,350.61 181.15,350.10 182.26,349.60 183.36,349.09 184.47,348.59 185.57,348.08 186.68,347.58 187.78,347.08 188.88,346.58 189.99,346.08 191.09,345.58 192.20,345.08 193.30,344.58 194.40,344.09 195.51,343.60 196.61,343.10 197.72,342.61 198.82,342.13 199.93,341.64 201.03,341.16 202.13,340.68 203.24,340.20 204.34,339.73 205.45,339.26 206.55,338.80 207.65,338.34 208.76,337.89 209.86,337.44 210.97,337.00 212.07,336.58 213.18,336.16 214.28,335.76 215.38,335.37 216.49,335.00 217.59,334.65 218.70,334.32 219.80,334.02 220.90,333.76 222.01,333.53 223.11,333.35 224.22,333.21 225.32,333.13 226.43,333.10 227.53,333.13 228.63,333.21 229.74,333.35 230.84,333.53 231.95,333.76 233.05,334.02 234.15,334.32 235.26,334.65 236.36,335.00 237.47,335.37 238.57,335.76 239.68,336.16 240.78,336.58 241.88,337.00 242.99,337.44 244.09,337.89 245.20,338.34 246.30,338.80 247.40,339.26 248.51,339.73 249.61,340.20 250.72,340.68 251.82,341.16 252.93,341.64 254.03,342.13 255.13,342.61 256.24,343.10 257.34,343.60 258.45,344.09 259.55,344.58 260.65,345.08 261.76,345.58 262.86,346.08 263.97,346.58 265.07,347.08 266.18,347.58 267.28,348.08 268.38,348.59 269.49,349.09 270.59,349.60 271.70,350.10 272.80,350.61 273.90,351.12 275.01,351.63 276.11,352.13 277.22,352.64 278.32,353.15 279.43,353.66 280.53,354.17 281.63,354.68 282.74,355.19 283.84,355.70 284.95,356.21 286.05,356.72 287.15,357.24 288.26,357.75 289.36,358.26 290.47,358.77 291.57,359.28 292.68,359.80 293.78,360.31 294.88,360.82 295.99,361.34 297.09,361.85 298.20,362.36 299.30,362.88 300.40,363.39 301.51,363.91 302.61,364.42 303.72,364.94 304.82,365.45 305.93,365.97 307.03,366.48 308.13,366.99 309.24,367.51 310.34,368.03 311.45,368.54 312.55,369.06 313.65,369.57 314.76,370.09 315.86,370.60 316.97,371.12 318.07,371.63 319.18,372.15 320.28,372.67 321.38,373.18 322.49,373.70 323.59,374.21 324.70,374.73 325.80,375.25" stroke="#555" stroke-width="2.5" fill="none"/><rect x="60.80" y="235.00" width="265.00" height="185.40" fill="none" stroke="#000" stroke-width="1.5"/><path d="M57.00 405.40H61.30M321.80 405.40H325.80M57.00 368.32H61.30M321.80 368.32H325.80M57.00 331.25H61.30M321.80 331.25H325.80M57.00 294.18H61.30M321.80 294.18H325.80M57.00 257.10H61.30M321.80 257.10H325.80M58.70 386.86H61.30M323.60 386.86H325.80M58.70 349.79H61.30M323.60 349.79H325.80M58.70 312.71H61.30M323.60 312.71H325.80M58.70 275.64H61.30M323.60 275.64H325.80M58.70 238.56H61.30M323.60 238.56H325.80M60.80 424.20V420.40M60.80 239.00V235.00M82.88 424.20V420.40M82.88 239.00V235.00M104.97 424.20V420.40M104.97 239.00V235.00M127.05 424.20V420.40M127.05 239.00V235.00M149.13 424.20V420.40M149.13 239.00V235.00M171.22 424.20V420.40M171.22 239.00V235.00M193.30 424.20V420.40M193.30 239.00V235.00M215.38 424.20V420.40M215.38 239.00V235.00M237.47 424.20V420.40M237.47 239.00V235.00M259.55 424.20V420.40M259.55 239.00V235.00M281.63 424.20V420.40M281.63 239.00V235.00M303.72 424.20V420.40M303.72 239.00V235.00M325.80 424.20V420.40M325.80 239.00V235.00M71.84 422.50V420.40M71.84 237.20V235.00M93.92 422.50V420.40M93.92 237.20V235.00M116.01 422.50V420.40M116.01 237.20V235.00M138.09 422.50V420.40M138.09 237.20V235.00M160.18 422.50V420.40M160.18 237.20V235.00M182.26 422.50V420.40M182.26 237.20V235.00M204.34 422.50V420.40M204.34 237.20V235.00M226.43 422.50V420.40M226.43 237.20V235.00M248.51 422.50V420.40M248.51 237.20V235.00M270.59 422.50V420.40M270.59 237.20V235.00M292.68 422.50V420.40M292.68 237.20V235.00M314.76 422.50V420.40M314.76 237.20V235.00" stroke="#000" stroke-width="1.5" fill="none"/><text x="60.80" y="434.80" font-size="10.5" text-anchor="middle" font-weight="normal" font-style="normal" fill="#000" textLength="9.71" lengthAdjust="spacingAndGlyphs">-6</text><text x="82.88" y="434.80" font-size="10.5" text-anchor="middle" font-weight="normal" font-style="normal" fill="#000" textLength="9.71" lengthAdjust="spacingAndGlyphs">-5</text><text x="104.97" y="434.80" font-size="10.5" text-anchor="middle" font-weight="normal" font-style="normal" fill="#000" textLength="9.71" lengthAdjust="spacingAndGlyphs">-4</text><text x="127.05" y="434.80" font-size="10.5" text-anchor="middle" font-weight="normal" font-style="normal" fill="#000" textLength="9.71" lengthAdjust="spacingAndGlyphs">-3</text><text x="149.13" y="434.80" font-size="10.5" text-anchor="middle" font-weight="normal" font-style="normal" fill="#000" textLength="9.71" lengthAdjust="spacingAndGlyphs">-2</text><text x="171.22" y="434.80" font-size="10.5" text-anchor="middle" font-weight="normal" font-style="normal" fill="#000" textLength="9.71" lengthAdjust="spacingAndGlyphs">-1</text><text x="193.30" y="434.80" font-size="10.5" text-anchor="middle" font-weight="normal" font-style="normal" fill="#000" textLength="6.07" lengthAdjust="spacingAndGlyphs">0</text><text x="215.38" y="434.80" font-size="10.5" text-anchor="middle" font-weight="normal" font-style="normal" fill="#000" textLength="6.07" lengthAdjust="spacingAndGlyphs">1</text><text x="237.47" y="434.80" font-size="10.5" text-anchor="middle" font-weight="normal" font-style="normal" fill="#000" textLength="6.07" lengthAdjust="spacingAndGlyphs">2</text><text x="259.55" y="434.80" font-size="10.5" text-anchor="middle" font-weight="normal" font-style="normal" fill="#000" textLength="6.07" lengthAdjust="spacingAndGlyphs">3</text><text x="281.63" y="434.80" font-size="10.5" text-anchor="middle" font-weight="normal" font-style="normal" fill="#000" textLength="6.07" lengthAdjust="spacingAndGlyphs">4</text><text x="303.72" y="434.80" font-size="10.5" text-anchor="middle" font-weight="normal" font-style="normal" fill="#000" textLength="6.07" lengthAdjust="spacingAndGlyphs">5</text><text x="325.80" y="434.80" font-size="10.5" text-anchor="middle" font-weight="normal" font-style="normal" fill="#000" textLength="6.07" lengthAdjust="spacingAndGlyphs">6</text><text x="55.00" y="409.20" font-size="10.5" text-anchor="end" font-weight="normal" font-style="normal" fill="#000" textLength="24.52" lengthAdjust="spacingAndGlyphs">2860</text><text x="55.00" y="372.12" font-size="10.5" text-anchor="end" font-weight="normal" font-style="normal" fill="#000" textLength="24.52" lengthAdjust="spacingAndGlyphs">2865</text><text x="55.00" y="335.05" font-size="10.5" text-anchor="end" font-weight="normal" font-style="normal" fill="#000" textLength="24.52" lengthAdjust="spacingAndGlyphs">2870</text><text x="55.00" y="297.98" font-size="10.5" text-anchor="end" font-weight="normal" font-style="normal" fill="#000" textLength="24.52" lengthAdjust="spacingAndGlyphs">2875</text><text x="55.00" y="260.90" font-size="10.5" text-anchor="end" font-weight="normal" font-style="normal" fill="#000" textLength="24.52" lengthAdjust="spacingAndGlyphs">2880</text><path d="M536.06 235.80V419.40M560.33 235.80V419.40M584.61 235.80V419.40" stroke="#c8c8c8" stroke-width="1" fill="none"/><rect x="530.73" y="299.25" width="5.8" height="5.8" fill="#0000ff"/><rect x="535.37" y="301.48" width="5.8" height="5.8" fill="#0000ff"/><rect x="543.75" y="304.45" width="5.8" height="5.8" fill="#0000ff"/><rect x="545.74" y="308.91" width="5.8" height="5.8" fill="#0000ff"/><rect x="549.49" y="306.68" width="5.8" height="5.8" fill="#0000ff"/><rect x="551.03" y="309.21" width="5.8" height="5.8" fill="#0000ff"/><rect x="555.89" y="312.33" width="5.8" height="5.8" fill="#0000ff"/><rect x="558.54" y="310.40" width="5.8" height="5.8" fill="#0000ff"/><rect x="561.18" y="310.62" width="5.8" height="5.8" fill="#0000ff"/><rect x="566.04" y="315.38" width="5.8" height="5.8" fill="#0000ff"/><rect x="568.69" y="310.99" width="5.8" height="5.8" fill="#0000ff"/><rect x="572.66" y="307.13" width="5.8" height="5.8" fill="#0000ff"/><rect x="572.66" y="318.42" width="5.8" height="5.8" fill="#0000ff"/><rect x="535.37" y="315.38" width="5.8" height="5.8" fill="#0000ff"/><rect x="543.75" y="316.34" width="5.8" height="5.8" fill="#0000ff"/><rect x="530.51" y="330.24" width="5.8" height="5.8" fill="#0000ff"/><rect x="535.37" y="333.28" width="5.8" height="5.8" fill="#0000ff"/><rect x="543.75" y="333.28" width="5.8" height="5.8" fill="#0000ff"/><rect x="545.74" y="338.11" width="5.8" height="5.8" fill="#0000ff"/><rect x="549.49" y="337.15" width="5.8" height="5.8" fill="#0000ff"/><rect x="556.33" y="340.86" width="5.8" height="5.8" fill="#0000ff"/><rect x="557.21" y="343.09" width="5.8" height="5.8" fill="#0000ff"/><rect x="566.04" y="336.77" width="5.8" height="5.8" fill="#0000ff"/><rect x="566.04" y="341.23" width="5.8" height="5.8" fill="#0000ff"/><rect x="572.66" y="335.66" width="5.8" height="5.8" fill="#0000ff"/><rect x="572.66" y="344.20" width="5.8" height="5.8" fill="#0000ff"/><rect x="543.75" y="345.10" width="5.8" height="5.8" fill="#0000ff"/><rect x="547.28" y="345.10" width="5.8" height="5.8" fill="#0000ff"/><rect x="530.51" y="349.78" width="5.8" height="5.8" fill="#0000ff"/><rect x="535.37" y="349.78" width="5.8" height="5.8" fill="#0000ff"/><rect x="586.56" y="298.29" width="5.8" height="5.8" fill="#0000ff"/><rect x="596.05" y="295.84" width="5.8" height="5.8" fill="#0000ff"/><rect x="586.56" y="313.67" width="5.8" height="5.8" fill="#0000ff"/><rect x="596.05" y="314.71" width="5.8" height="5.8" fill="#0000ff"/><rect x="623.19" y="280.68" width="5.8" height="5.8" fill="#0000ff"/><rect x="623.19" y="301.78" width="5.8" height="5.8" fill="#0000ff"/><rect x="586.56" y="335.88" width="5.8" height="5.8" fill="#0000ff"/><rect x="596.05" y="335.88" width="5.8" height="5.8" fill="#0000ff"/><rect x="586.56" y="351.26" width="5.8" height="5.8" fill="#0000ff"/><rect x="596.05" y="356.09" width="5.8" height="5.8" fill="#0000ff"/><rect x="623.19" y="344.58" width="5.8" height="5.8" fill="#0000ff"/><rect x="623.19" y="365.68" width="5.8" height="5.8" fill="#0000ff"/><rect x="436.07" y="278.56" width="5.8" height="5.8" fill="#0000ff"/><rect x="436.07" y="371.96" width="5.8" height="5.8" fill="#0000ff"/><rect x="436.07" y="255.98" width="5.8" height="5.8" fill="#0000ff"/><rect x="436.07" y="394.54" width="5.8" height="5.8" fill="#0000ff"/><rect x="656.73" y="266.27" width="5.8" height="5.8" fill="#0000ff"/><rect x="656.73" y="384.24" width="5.8" height="5.8" fill="#0000ff"/><rect x="656.73" y="288.69" width="5.8" height="5.8" fill="#0000ff"/><rect x="656.73" y="361.82" width="5.8" height="5.8" fill="#0000ff"/><polyline points="416.90,271.22 418.00,271.74 419.11,272.25 420.21,272.76 421.31,273.28 422.42,273.79 423.52,274.30 424.62,274.81 425.73,275.33 426.83,275.84 427.93,276.35 429.04,276.86 430.14,277.37 431.24,277.88 432.35,278.39 433.45,278.91 434.55,279.42 435.66,279.93 436.76,280.44 437.86,280.95 438.97,281.46 440.07,281.97 441.17,282.48 442.28,282.98 443.38,283.49 444.48,284.00 445.59,284.51 446.69,285.02 447.79,285.53 448.90,286.03 450.00,286.54 451.10,287.05 452.21,287.55 453.31,288.06 454.41,288.57 455.52,289.07 456.62,289.58 457.72,290.08 458.83,290.59 459.93,291.09 461.03,291.59 462.14,292.09 463.24,292.60 464.34,293.10 465.45,293.60 466.55,294.10 467.65,294.60 468.76,295.10 469.86,295.60 470.96,296.10 472.07,296.59 473.17,297.09 474.27,297.59 475.38,298.08 476.48,298.58 477.58,299.07 478.69,299.56 479.79,300.05 480.89,300.54 482.00,301.03 483.10,301.52 484.20,302.01 485.31,302.49 486.41,302.98 487.51,303.46 488.62,303.94 489.72,304.42 490.82,304.90 491.93,305.38 493.03,305.85 494.13,306.32 495.24,306.79 496.34,307.26 497.44,307.72 498.55,308.18 499.65,308.64 500.75,309.10 501.86,309.55 502.96,310.00 504.06,310.44 505.17,310.89 506.27,311.32 507.37,311.75 508.48,312.18 509.58,312.60 510.68,313.01 511.79,313.42 512.89,313.82 513.99,314.21 515.10,314.60 516.20,314.97 517.30,315.33 518.41,315.69 519.51,316.03 520.61,316.36 521.72,316.67 522.82,316.97 523.92,317.25 525.03,317.51 526.13,317.76 527.23,317.98 528.34,318.18 529.44,318.36 530.54,318.51 531.65,318.64 532.75,318.74 533.85,318.81 534.96,318.86 536.06,318.87 537.16,318.86 538.27,318.81 539.37,318.74 540.47,318.64 541.58,318.51 542.68,318.36 543.78,318.18 544.89,317.98 545.99,317.76 547.09,317.51 548.20,317.25 549.30,316.97 550.40,316.67 551.51,316.36 552.61,316.03 553.71,315.69 554.82,315.33 555.92,314.97 557.02,314.60 558.13,314.21 559.23,313.82 560.33,313.42 561.44,313.01 562.54,312.60 563.64,312.18 564.75,311.75 565.85,311.32 566.95,310.89 568.06,310.44 569.16,310.00 570.26,309.55 571.37,309.10 572.47,308.64 573.57,308.18 574.68,307.72 575.78,307.26 576.88,306.79 577.99,306.32 579.09,305.85 580.19,305.38 581.30,304.90 582.40,304.42 583.50,303.94 584.61,303.46 585.71,302.98 586.81,302.49 587.92,302.01 589.02,301.52 590.12,301.03 591.23,300.54 592.33,300.05 593.43,299.56 594.54,299.07 595.64,298.58 596.74,298.08 597.85,297.59 598.95,297.09 600.05,296.59 601.16,296.10 602.26,295.60 603.36,295.10 604.47,294.60 605.57,294.10 606.67,293.60 607.78,293.10 608.88,292.60 609.98,292.09 611.09,291.59 612.19,291.09 613.29,290.59 614.40,290.08 615.50,289.58 616.60,289.07 617.71,288.57 618.81,288.06 619.91,287.55 621.02,287.05 622.12,286.54 623.22,286.03 624.33,285.53 625.43,285.02 626.53,284.51 627.64,284.00 628.74,283.49 629.84,282.98 630.95,282.48 632.05,281.97 633.15,281.46 634.26,280.95 635.36,280.44 636.46,279.93 637.57,279.42 638.67,278.91 639.77,278.39 640.88,277.88 641.98,277.37 643.08,276.86 644.19,276.35 645.29,275.84 646.39,275.33 647.50,274.81 648.60,274.30 649.70,273.79 650.81,273.28 651.91,272.76 653.01,272.25 654.12,271.74 655.22,271.22 656.32,270.71 657.43,270.20 658.53,269.68 659.63,269.17 660.74,268.66 661.84,268.14 662.94,267.63 664.05,267.12 665.15,266.60 666.25,266.09 667.36,265.57 668.46,265.06 669.56,264.54 670.67,264.03 671.77,263.52 672.87,263.00 673.98,262.49 675.08,261.97 676.18,261.46 677.29,260.94 678.39,260.43 679.49,259.91 680.60,259.39 681.70,258.88" stroke="#000" stroke-width="1.5" fill="none"/><polyline points="416.90,385.09 418.00,384.58 419.11,384.07 420.21,383.55 421.31,383.04 422.42,382.53 423.52,382.02 424.62,381.50 425.73,380.99 426.83,380.48 427.93,379.97 429.04,379.46 430.14,378.94 431.24,378.43 432.35,377.92 433.45,377.41 434.55,376.90 435.66,376.39 436.76,375.88 437.86,375.37 438.97,374.86 440.07,374.35 441.17,373.84 442.28,373.33 443.38,372.82 444.48,372.31 445.59,371.81 446.69,371.30 447.79,370.79 448.90,370.28 450.00,369.78 451.10,369.27 452.21,368.76 453.31,368.26 454.41,367.75 455.52,367.24 456.62,366.74 457.72,366.24 458.83,365.73 459.93,365.23 461.03,364.72 462.14,364.22 463.24,363.72 464.34,363.22 465.45,362.72 466.55,362.22 467.65,361.72 468.76,361.22 469.86,360.72 470.96,360.22 472.07,359.72 473.17,359.22 474.27,358.73 475.38,358.23 476.48,357.74 477.58,357.25 478.69,356.75 479.79,356.26 480.89,355.77 482.00,355.28 483.10,354.79 484.20,354.31 485.31,353.82 486.41,353.34 487.51,352.86 488.62,352.37 489.72,351.89 490.82,351.42 491.93,350.94 493.03,350.47 494.13,350.00 495.24,349.53 496.34,349.06 497.44,348.59 498.55,348.13 499.65,347.67 500.75,347.22 501.86,346.76 502.96,346.32 504.06,345.87 505.17,345.43 506.27,344.99 507.37,344.56 508.48,344.14 509.58,343.72 510.68,343.30 511.79,342.90 512.89,342.50 513.99,342.10 515.10,341.72 516.20,341.35 517.30,340.98 518.41,340.63 519.51,340.29 520.61,339.96 521.72,339.65 522.82,339.35 523.92,339.07 525.03,338.80 526.13,338.56 527.23,338.33 528.34,338.13 529.44,337.96 530.54,337.80 531.65,337.68 532.75,337.58 533.85,337.50 534.96,337.46 536.06,337.45 537.16,337.46 538.27,337.50 539.37,337.58 540.47,337.68 541.58,337.80 542.68,337.96 543.78,338.13 544.89,338.33 545.99,338.56 547.09,338.80 548.20,339.07 549.30,339.35 550.40,339.65 551.51,339.96 552.61,340.29 553.71,340.63 554.82,340.98 555.92,341.35 557.02,341.72 558.13,342.10 559.23,342.50 560.33,342.90 561.44,343.30 562.54,343.72 563.64,344.14 564.75,344.56 565.85,344.99 566.95,345.43 568.06,345.87 569.16,346.32 570.26,346.76 571.37,347.22 572.47,347.67 573.57,348.13 574.68,348.59 575.78,349.06 576.88,349.53 577.99,350.00 579.09,350.47 580.19,350.94 581.30,351.42 582.40,351.89 583.50,352.37 584.61,352.86 585.71,353.34 586.81,353.82 587.92,354.31 589.02,354.79 590.12,355.28 591.23,355.77 592.33,356.26 593.43,356.75 594.54,357.25 595.64,357.74 596.74,358.23 597.85,358.73 598.95,359.22 600.05,359.72 601.16,360.22 602.26,360.72 603.36,361.22 604.47,361.72 605.57,362.22 606.67,362.72 607.78,363.22 608.88,363.72 609.98,364.22 611.09,364.72 612.19,365.23 613.29,365.73 614.40,366.24 615.50,366.74 616.60,367.24 617.71,367.75 618.81,368.26 619.91,368.76 621.02,369.27 622.12,369.78 623.22,370.28 624.33,370.79 625.43,371.30 626.53,371.81 627.64,372.31 628.74,372.82 629.84,373.33 630.95,373.84 632.05,374.35 633.15,374.86 634.26,375.37 635.36,375.88 636.46,376.39 637.57,376.90 638.67,377.41 639.77,377.92 640.88,378.43 641.98,378.94 643.08,379.46 644.19,379.97 645.29,380.48 646.39,380.99 647.50,381.50 648.60,382.02 649.70,382.53 650.81,383.04 651.91,383.55 653.01,384.07 654.12,384.58 655.22,385.09 656.32,385.60 657.43,386.12 658.53,386.63 659.63,387.14 660.74,387.66 661.84,388.17 662.94,388.69 664.05,389.20 665.15,389.71 666.25,390.23 667.36,390.74 668.46,391.26 669.56,391.77 670.67,392.29 671.77,392.80 672.87,393.32 673.98,393.83 675.08,394.35 676.18,394.86 677.29,395.38 678.39,395.89 679.49,396.41 680.60,396.92 681.70,397.44" stroke="#000" stroke-width="1.5" fill="none"/><polyline points="416.90,248.56 418.00,249.08 419.11,249.59 420.21,250.11 421.31,250.62 422.42,251.14 423.52,251.66 424.62,252.17 425.73,252.69 426.83,253.21 427.93,253.72 429.04,254.24 430.14,254.75 431.24,255.27 432.35,255.79 433.45,256.30 434.55,256.82 435.66,257.33 436.76,257.85 437.86,258.36 438.97,258.88 440.07,259.39 441.17,259.91 442.28,260.43 443.38,260.94 444.48,261.46 445.59,261.97 446.69,262.49 447.79,263.00 448.90,263.52 450.00,264.03 451.10,264.54 452.21,265.06 453.31,265.57 454.41,266.09 455.52,266.60 456.62,267.12 457.72,267.63 458.83,268.14 459.93,268.66 461.03,269.17 462.14,269.68 463.24,270.20 464.34,270.71 465.45,271.22 466.55,271.74 467.65,272.25 468.76,272.76 469.86,273.28 470.96,273.79 472.07,274.30 473.17,274.81 474.27,275.33 475.38,275.84 476.48,276.35 477.58,276.86 478.69,277.37 479.79,277.88 480.89,278.39 482.00,278.91 483.10,279.42 484.20,279.93 485.31,280.44 486.41,280.95 487.51,281.46 488.62,281.97 489.72,282.48 490.82,282.98 491.93,283.49 493.03,284.00 494.13,284.51 495.24,285.02 496.34,285.53 497.44,286.03 498.55,286.54 499.65,287.05 500.75,287.55 501.86,288.06 502.96,288.57 504.06,289.07 505.17,289.58 506.27,290.08 507.37,290.59 508.48,291.09 509.58,291.59 510.68,292.09 511.79,292.60 512.89,293.10 513.99,293.60 515.10,294.10 516.20,294.60 517.30,295.10 518.41,295.60 519.51,296.10 520.61,296.59 521.72,297.09 522.82,297.59 523.92,298.08 525.03,298.58 526.13,299.07 527.23,299.56 528.34,300.05 529.44,300.54 530.54,301.03 531.65,301.52 532.75,302.01 533.85,302.49 534.96,302.98 536.06,303.46 537.16,303.94 538.27,304.42 539.37,304.90 540.47,305.38 541.58,305.85 542.68,306.32 543.78,306.79 544.89,307.26 545.99,307.72 547.09,308.18 548.20,308.64 549.30,309.10 550.40,309.55 551.51,310.00 552.61,310.44 553.71,310.89 554.82,311.32 555.92,311.75 557.02,312.18 558.13,312.60 559.23,313.01 560.33,313.42 561.44,313.82 562.54,314.21 563.64,314.60 564.75,314.97 565.85,315.33 566.95,315.69 568.06,316.03 569.16,316.36 570.26,316.67 571.37,316.97 572.47,317.25 573.57,317.51 574.68,317.76 575.78,317.98 576.88,318.18 577.99,318.36 579.09,318.51 580.19,318.64 581.30,318.74 582.40,318.81 583.50,318.86 584.61,318.87 585.71,318.86 586.81,318.81 587.92,318.74 589.02,318.64 590.12,318.51 591.23,318.36 592.33,318.18 593.43,317.98 594.54,317.76 595.64,317.51 596.74,317.25 597.85,316.97 598.95,316.67 600.05,316.36 601.16,316.03 602.26,315.69 603.36,315.33 604.47,314.97 605.57,314.60 606.67,314.21 607.78,313.82 608.88,313.42 609.98,313.01 611.09,312.60 612.19,312.18 613.29,311.75 614.40,311.32 615.50,310.89 616.60,310.44 617.71,310.00 618.81,309.55 619.91,309.10 621.02,308.64 622.12,308.18 623.22,307.72 624.33,307.26 625.43,306.79 626.53,306.32 627.64,305.85 628.74,305.38 629.84,304.90 630.95,304.42 632.05,303.94 633.15,303.46 634.26,302.98 635.36,302.49 636.46,302.01 637.57,301.52 638.67,301.03 639.77,300.54 640.88,300.05 641.98,299.56 643.08,299.07 644.19,298.58 645.29,298.08 646.39,297.59 647.50,297.09 648.60,296.59 649.70,296.10 650.81,295.60 651.91,295.10 653.01,294.60 654.12,294.10 655.22,293.60 656.32,293.10 657.43,292.60 658.53,292.09 659.63,291.59 660.74,291.09 661.84,290.59 662.94,290.08 664.05,289.58 665.15,289.07 666.25,288.57 667.36,288.06 668.46,287.55 669.56,287.05 670.67,286.54 671.77,286.03 672.87,285.53 673.98,285.02 675.08,284.51 676.18,284.00 677.29,283.49 678.39,282.98 679.49,282.48 680.60,281.97 681.70,281.46" stroke="#000" stroke-width="1.5" fill="none"/><polyline points="416.90,407.76 418.00,407.24 419.11,406.72 420.21,406.21 421.31,405.69 422.42,405.17 423.52,404.66 424.62,404.14 425.73,403.63 426.83,403.11 427.93,402.59 429.04,402.08 430.14,401.56 431.24,401.05 432.35,400.53 433.45,400.01 434.55,399.50 435.66,398.98 436.76,398.47 437.86,397.95 438.97,397.44 440.07,396.92 441.17,396.41 442.28,395.89 443.38,395.38 444.48,394.86 445.59,394.35 446.69,393.83 447.79,393.32 448.90,392.80 450.00,392.29 451.10,391.77 452.21,391.26 453.31,390.74 454.41,390.23 455.52,389.71 456.62,389.20 457.72,388.69 458.83,388.17 459.93,387.66 461.03,387.14 462.14,386.63 463.24,386.12 464.34,385.60 465.45,385.09 466.55,384.58 467.65,384.07 468.76,383.55 469.86,383.04 470.96,382.53 472.07,382.02 473.17,381.50 474.27,380.99 475.38,380.48 476.48,379.97 477.58,379.46 478.69,378.94 479.79,378.43 480.89,377.92 482.00,377.41 483.10,376.90 484.20,376.39 485.31,375.88 486.41,375.37 487.51,374.86 488.62,374.35 489.72,373.84 490.82,373.33 491.93,372.82 493.03,372.31 494.13,371.81 495.24,371.30 496.34,370.79 497.44,370.28 498.55,369.78 499.65,369.27 500.75,368.76 501.86,368.26 502.96,367.75 504.06,367.24 505.17,366.74 506.27,366.24 507.37,365.73 508.48,365.23 509.58,364.72 510.68,364.22 511.79,363.72 512.89,363.22 513.99,362.72 515.10,362.22 516.20,361.72 517.30,361.22 518.41,360.72 519.51,360.22 520.61,359.72 521.72,359.22 522.82,358.73 523.92,358.23 525.03,357.74 526.13,357.25 527.23,356.75 528.34,356.26 529.44,355.77 530.54,355.28 531.65,354.79 532.75,354.31 533.85,353.82 534.96,353.34 536.06,352.86 537.16,352.37 538.27,351.89 539.37,351.42 540.47,350.94 541.58,350.47 542.68,350.00 543.78,349.53 544.89,349.06 545.99,348.59 547.09,348.13 548.20,347.67 549.30,347.22 550.40,346.76 551.51,346.32 552.61,345.87 553.71,345.43 554.82,344.99 555.92,344.56 557.02,344.14 558.13,343.72 559.23,343.30 560.33,342.90 561.44,342.50 562.54,342.10 563.64,341.72 564.75,341.35 565.85,340.98 566.95,340.63 568.06,340.29 569.16,339.96 570.26,339.65 571.37,339.35 572.47,339.07 573.57,338.80 574.68,338.56 575.78,338.33 576.88,338.13 577.99,337.96 579.09,337.80 580.19,337.68 581.30,337.58 582.40,337.50 583.50,337.46 584.61,337.45 585.71,337.46 586.81,337.50 587.92,337.58 589.02,337.68 590.12,337.80 591.23,337.96 592.33,338.13 593.43,338.33 594.54,338.56 595.64,338.80 596.74,339.07 597.85,339.35 598.95,339.65 600.05,339.96 601.16,340.29 602.26,340.63 603.36,340.98 604.47,341.35 605.57,341.72 606.67,342.10 607.78,342.50 608.88,342.90 609.98,343.30 611.09,343.72 612.19,344.14 613.29,344.56 614.40,344.99 615.50,345.43 616.60,345.87 617.71,346.32 618.81,346.76 619.91,347.22 621.02,347.67 622.12,348.13 623.22,348.59 624.33,349.06 625.43,349.53 626.53,350.00 627.64,350.47 628.74,350.94 629.84,351.42 630.95,351.89 632.05,352.37 633.15,352.86 634.26,353.34 635.36,353.82 636.46,354.31 637.57,354.79 638.67,355.28 639.77,355.77 640.88,356.26 641.98,356.75 643.08,357.25 644.19,357.74 645.29,358.23 646.39,358.73 647.50,359.22 648.60,359.72 649.70,360.22 650.81,360.72 651.91,361.22 653.01,361.72 654.12,362.22 655.22,362.72 656.32,363.22 657.43,363.72 658.53,364.22 659.63,364.72 660.74,365.23 661.84,365.73 662.94,366.24 664.05,366.74 665.15,367.24 666.25,367.75 667.36,368.26 668.46,368.76 669.56,369.27 670.67,369.78 671.77,370.28 672.87,370.79 673.98,371.30 675.08,371.81 676.18,372.31 677.29,372.82 678.39,373.33 679.49,373.84 680.60,374.35 681.70,374.86" stroke="#000" stroke-width="1.5" fill="none"/><rect x="416.90" y="234.80" width="264.80" height="185.60" fill="none" stroke="#000" stroke-width="1.5"/><path d="M413.10 398.00H417.40M677.70 398.00H681.70M413.10 360.85H417.40M677.70 360.85H681.70M413.10 323.70H417.40M677.70 323.70H681.70M413.10 286.55H417.40M677.70 286.55H681.70M413.10 249.40H417.40M677.70 249.40H681.70M414.80 416.57H417.40M679.50 416.57H681.70M414.80 379.43H417.40M679.50 379.43H681.70M414.80 342.27H417.40M679.50 342.27H681.70M414.80 305.12H417.40M679.50 305.12H681.70M414.80 267.98H417.40M679.50 267.98H681.70M416.90 424.20V420.40M416.90 238.80V234.80M438.97 424.20V420.40M438.97 238.80V234.80M461.03 424.20V420.40M461.03 238.80V234.80M483.10 424.20V420.40M483.10 238.80V234.80M505.17 424.20V420.40M505.17 238.80V234.80M527.23 424.20V420.40M527.23 238.80V234.80M549.30 424.20V420.40M549.30 238.80V234.80M571.37 424.20V420.40M571.37 238.80V234.80M593.43 424.20V420.40M593.43 238.80V234.80M615.50 424.20V420.40M615.50 238.80V234.80M637.57 424.20V420.40M637.57 238.80V234.80M659.63 424.20V420.40M659.63 238.80V234.80M681.70 424.20V420.40M681.70 238.80V234.80M427.93 422.50V420.40M427.93 237.00V234.80M450.00 422.50V420.40M450.00 237.00V234.80M472.07 422.50V420.40M472.07 237.00V234.80M494.13 422.50V420.40M494.13 237.00V234.80M516.20 422.50V420.40M516.20 237.00V234.80M538.27 422.50V420.40M538.27 237.00V234.80M560.33 422.50V420.40M560.33 237.00V234.80M582.40 422.50V420.40M582.40 237.00V234.80M604.47 422.50V420.40M604.47 237.00V234.80M626.53 422.50V420.40M626.53 237.00V234.80M648.60 422.50V420.40M648.60 237.00V234.80M670.67 422.50V420.40M670.67 237.00V234.80" stroke="#000" stroke-width="1.5" fill="none"/><text x="416.90" y="436.80" font-size="10.5" text-anchor="middle" font-weight="normal" font-style="normal" fill="#000" textLength="9.71" lengthAdjust="spacingAndGlyphs">-6</text><text x="438.97" y="436.80" font-size="10.5" text-anchor="middle" font-weight="normal" font-style="normal" fill="#000" textLength="9.71" lengthAdjust="spacingAndGlyphs">-5</text><text x="461.03" y="436.80" font-size="10.5" text-anchor="middle" font-weight="normal" font-style="normal" fill="#000" textLength="9.71" lengthAdjust="spacingAndGlyphs">-4</text><text x="483.10" y="436.80" font-size="10.5" text-anchor="middle" font-weight="normal" font-style="normal" fill="#000" textLength="9.71" lengthAdjust="spacingAndGlyphs">-3</text><text x="505.17" y="436.80" font-size="10.5" text-anchor="middle" font-weight="normal" font-style="normal" fill="#000" textLength="9.71" lengthAdjust="spacingAndGlyphs">-2</text><text x="527.23" y="436.80" font-size="10.5" text-anchor="middle" font-weight="normal" font-style="normal" fill="#000" textLength="9.71" lengthAdjust="spacingAndGlyphs">-1</text><text x="549.30" y="436.80" font-size="10.5" text-anchor="middle" font-weight="normal" font-style="normal" fill="#000" textLength="6.07" lengthAdjust="spacingAndGlyphs">0</text><text x="571.37" y="436.80" font-size="10.5" text-anchor="middle" font-weight="normal" font-style="normal" fill="#000" textLength="6.07" lengthAdjust="spacingAndGlyphs">1</text><text x="593.43" y="436.80" font-size="10.5" text-anchor="middle" font-weight="normal" font-style="normal" fill="#000" textLength="6.07" lengthAdjust="spacingAndGlyphs">2</text><text x="615.50" y="436.80" font-size="10.5" text-anchor="middle" font-weight="normal" font-style="normal" fill="#000" textLength="6.07" lengthAdjust="spacingAndGlyphs">3</text><text x="637.57" y="436.80" font-size="10.5" text-anchor="middle" font-weight="normal" font-style="normal" fill="#000" textLength="6.07" lengthAdjust="spacingAndGlyphs">4</text><text x="659.63" y="436.80" font-size="10.5" text-anchor="middle" font-weight="normal" font-style="normal" fill="#000" textLength="6.07" lengthAdjust="spacingAndGlyphs">5</text><text x="681.70" y="436.80" font-size="10.5" text-anchor="middle" font-weight="normal" font-style="normal" fill="#000" textLength="6.07" lengthAdjust="spacingAndGlyphs">6</text><text x="409.20" y="401.80" font-size="10.5" text-anchor="end" font-weight="normal" font-style="normal" fill="#000" textLength="24.52" lengthAdjust="spacingAndGlyphs">2860</text><text x="409.20" y="364.65" font-size="10.5" text-anchor="end" font-weight="normal" font-style="normal" fill="#000" textLength="24.52" lengthAdjust="spacingAndGlyphs">2865</text><text x="409.20" y="327.50" font-size="10.5" text-anchor="end" font-weight="normal" font-style="normal" fill="#000" textLength="24.52" lengthAdjust="spacingAndGlyphs">2870</text><text x="409.20" y="290.35" font-size="10.5" text-anchor="end" font-weight="normal" font-style="normal" fill="#000" textLength="24.52" lengthAdjust="spacingAndGlyphs">2875</text><text x="409.20" y="253.20" font-size="10.5" text-anchor="end" font-weight="normal" font-style="normal" fill="#000" textLength="24.52" lengthAdjust="spacingAndGlyphs">2880</text><path d="M535.5 319.4H667.2M535.5 339.2H667.2" stroke="#333" stroke-width="1" fill="none"/><text x="7.50" y="29.30" font-size="19.5" text-anchor="start" font-weight="bold" font-style="normal" fill="#000" >a</text><text x="4.20" y="251.60" font-size="19.5" text-anchor="start" font-weight="bold" font-style="normal" fill="#000" >b</text><text x="358.80" y="30.60" font-size="19.5" text-anchor="start" font-weight="bold" font-style="normal" fill="#000" >c</text><text x="356.20" y="255.60" font-size="19.5" text-anchor="start" font-weight="bold" font-style="normal" fill="#000" >d</text><text x="177.60" y="9.20" font-size="12.5" text-anchor="middle" font-weight="normal" font-style="normal" fill="#000" >-0.7</text><text x="202.30" y="9.20" font-size="12.5" text-anchor="middle" font-weight="normal" font-style="normal" fill="#000" >0.4</text><text x="226.80" y="9.20" font-size="12.5" text-anchor="middle" font-weight="normal" font-style="normal" fill="#000" >1.5</text><text x="536.20" y="9.20" font-size="12.5" text-anchor="middle" font-weight="normal" font-style="normal" fill="#000" >-0.6</text><text x="560.90" y="9.20" font-size="12.5" text-anchor="middle" font-weight="normal" font-style="normal" fill="#000" >0.5</text><text x="585.30" y="9.20" font-size="12.5" text-anchor="middle" font-weight="normal" font-style="normal" fill="#000" >1.6</text><text transform="translate(21.0,134.2) rotate(-90)" font-size="16.5" font-style="italic">T</text><text transform="translate(25.3,125.6) rotate(-90)" font-size="11.5">2</text><text transform="translate(14.2,119.19999999999999) rotate(-90)" font-size="11">*</text><text transform="translate(21.0,109.79999999999998) rotate(-90)" font-size="16.5">(μs)</text><text transform="translate(374.7,133.5) rotate(-90)" font-size="16.5" font-style="italic">T</text><text transform="translate(379.0,124.9) rotate(-90)" font-size="11.5">2</text><text transform="translate(367.9,118.5) rotate(-90)" font-size="11">*</text><text transform="translate(374.7,109.1) rotate(-90)" font-size="16.5">(μs)</text><text transform="translate(12.8,359.8) rotate(-90)" font-size="16.5" textLength="60.8" lengthAdjust="spacingAndGlyphs"><tspan font-style="italic">F</tspan> (MHz)</text><text transform="translate(371.8,357.8) rotate(-90)" font-size="16.5" textLength="60.8" lengthAdjust="spacingAndGlyphs"><tspan font-style="italic">F</tspan> (MHz)</text><text x="173.7" y="460.0" font-size="16.5"><tspan font-style="italic">B</tspan><tspan font-size="11" dy="4.8">0</tspan><tspan dy="-4.8"> (G)</tspan></text><text x="526.7" y="462.0" font-size="16.5"><tspan font-style="italic">B</tspan><tspan font-size="11" dy="4.8">0</tspan><tspan dy="-4.8"> (G)</tspan></text><text x="68.70" y="334.30" font-size="12.6" text-anchor="start" font-weight="normal" font-style="normal" fill="#000" textLength="92.6" lengthAdjust="spacingAndGlyphs"><tspan font-style="italic">D</tspan> = 2870.4 MHz</text><text x="247.00" y="334.80" font-size="12.6" text-anchor="start" font-weight="normal" font-style="normal" fill="#000" textLength="77.5" lengthAdjust="spacingAndGlyphs">2<tspan font-style="italic">E</tspan> = 1.3 MHz</text><text x="427.60" y="333.40" font-size="12.6" text-anchor="start" font-weight="normal" font-style="normal" fill="#000" textLength="92.6" lengthAdjust="spacingAndGlyphs"><tspan font-style="italic">D</tspan> = 2869.4 MHz</text><text x="589.00" y="333.20" font-size="12.6" text-anchor="start" font-weight="normal" font-style="normal" fill="#000" textLength="79.0" lengthAdjust="spacingAndGlyphs">2<tspan font-style="italic">E</tspan> = 2.5 MHz</text><rect x="77.3" y="153.3" width="78.4" height="23.1" fill="#fff" stroke="#808080" stroke-width="1"/><path d="M79.5 164.85000000000002H117.3" stroke="#000" stroke-width="2"/><circle cx="98.3" cy="164.85000000000002" r="3.2" fill="#ff0000"/><text x="121.30" y="170.70" font-size="15.8" text-anchor="start" font-weight="normal" font-style="normal" fill="#000" >NV1</text><rect x="437.4" y="153.3" width="78.1" height="23.1" fill="#fff" stroke="#808080" stroke-width="1"/><path d="M439.59999999999997 164.85000000000002H477.4" stroke="#000" stroke-width="2"/><rect x="455.4" y="161.85000000000002" width="6" height="6" fill="#0000ff"/><text x="481.30" y="170.70" font-size="15.8" text-anchor="start" font-weight="normal" font-style="normal" fill="#000" >NV2</text><rect x="157.4" y="379.1" width="73" height="21.6" fill="#fff" stroke="#808080" stroke-width="1"/><circle cx="176.9" cy="389.90000000000003" r="3" fill="#ff0000"/><text x="198.00" y="395.38" font-size="14.8" text-anchor="start" font-weight="normal" font-style="normal" fill="#000" >NV1</text><rect x="514.2" y="378.0" width="78.2" height="23.1" fill="#fff" stroke="#808080" stroke-width="1"/><rect x="531.8000000000001" y="386.55" width="6" height="6" fill="#0000ff"/><text x="557.40" y="395.54" font-size="16.2" text-anchor="start" font-weight="normal" font-style="normal" fill="#000" >NV2</text></svg></body></html>
